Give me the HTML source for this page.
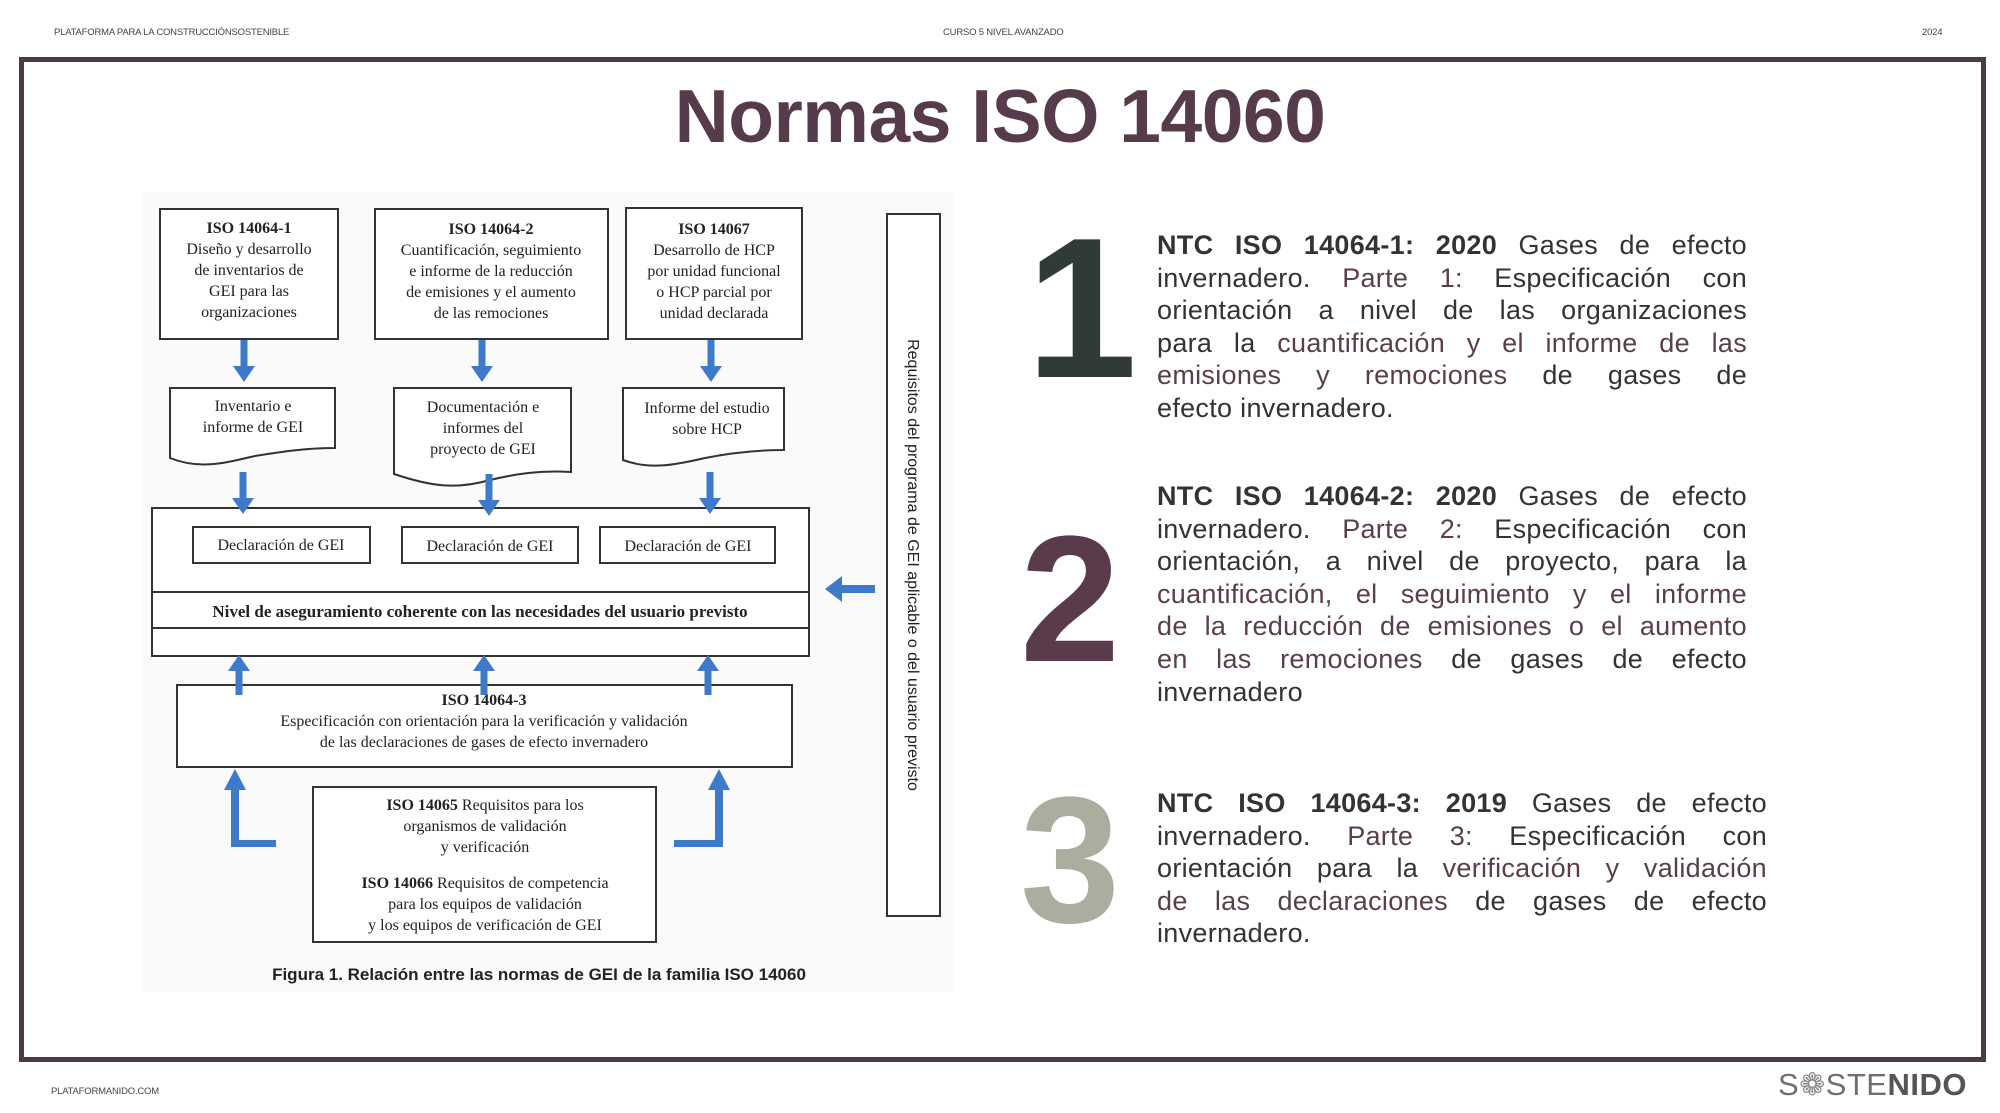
<!DOCTYPE html>
<html><head><meta charset="utf-8"><style>
html,body{margin:0;padding:0;background:#fff;}
body{width:2000px;height:1113px;position:relative;overflow:hidden;font-family:"Liberation Sans",sans-serif;}
.hd{position:absolute;top:27px;font-size:9.5px;color:#444;letter-spacing:-0.2px;}
.frame{position:absolute;left:19px;top:57px;width:1957px;height:995px;border:5px solid #4d3a45;}
.title{position:absolute;left:0;width:2000px;top:73px;text-align:center;font-size:75px;font-weight:bold;color:#563c4a;letter-spacing:-0.5px;}
.num{position:absolute;font-weight:bold;line-height:1;}
.para{position:absolute;left:1157px;width:590px;font-size:27px;line-height:32.6px;color:#333;letter-spacing:0.3px;}
.para div{text-align:justify;text-align-last:justify;}
.para div.l{text-align-last:left;}
.p{color:#5a3e4c;}
b{font-weight:bold;color:#333;}
</style></head><body>
<div class="hd" style="left:54px">PLATAFORMA PARA LA CONSTRUCCIÓNSOSTENIBLE</div>
<div class="hd" style="left:943px">CURSO 5 NIVEL AVANZADO</div>
<div class="hd" style="left:1922px">2024</div>
<div class="frame"></div>
<div class="title">Normas ISO 14060</div>

<svg style="position:absolute;left:0;top:0" width="2000" height="1113" viewBox="0 0 2000 1113">
<defs>
<g id="ad"><rect x="-3.5" y="0" width="7" height="28" fill="#3d7acb"/><polygon points="-11,26 11,26 0,42" fill="#3d7acb"/></g>
</defs>
<rect x="143" y="192" width="810" height="800" fill="#fafafa"/>
<g fill="#fff" stroke="#333" stroke-width="2">
<rect x="160" y="209" width="178" height="130"/>
<rect x="375" y="209" width="233" height="130"/>
<rect x="626" y="208" width="176" height="131"/>
<path d="M170 388 H335 V448 C305 448 280 452 255 456 C225 463 200 470 170 458 Z"/>
<path d="M394 388 H571 V472 C540 470 515 474 490 480 C455 490 430 486 394 474 Z"/>
<path d="M623 388 H784 V450 C755 450 730 453 705 458 C675 465 650 470 623 460 Z"/>
<rect x="152" y="508" width="657" height="148"/>
<line x1="152" y1="592" x2="809" y2="592"/>
<line x1="152" y1="628" x2="809" y2="628"/>
<rect x="193" y="527" width="177" height="36"/>
<rect x="402" y="527" width="176" height="36"/>
<rect x="600" y="527" width="175" height="36"/>
<rect x="177" y="685" width="615" height="82"/>
<rect x="313" y="787" width="343" height="155"/>
<rect x="887" y="214" width="53" height="702"/>
</g>
<use href="#ad" x="244" y="340"/><use href="#ad" x="482" y="340"/><use href="#ad" x="711" y="340"/>
<use href="#ad" x="243" y="472"/><use href="#ad" x="489" y="474"/><use href="#ad" x="710" y="472"/>
<g fill="#3d7acb">
<g transform="translate(239,695) scale(1,-1)"><rect x="-3.5" y="0" width="7" height="26"/><polygon points="-11,24 11,24 0,40"/></g>
<g transform="translate(484,695) scale(1,-1)"><rect x="-3.5" y="0" width="7" height="26"/><polygon points="-11,24 11,24 0,40"/></g>
<g transform="translate(708,695) scale(1,-1)"><rect x="-3.5" y="0" width="7" height="26"/><polygon points="-11,24 11,24 0,40"/></g>
<rect x="231" y="788" width="8" height="59"/><rect x="231" y="840" width="45" height="7"/><polygon points="224,790 246,790 235,769"/>
<rect x="715" y="788" width="8" height="59"/><rect x="674" y="840" width="49" height="7"/><polygon points="708,790 730,790 719,769"/>
<rect x="840" y="585" width="35" height="8"/><polygon points="842,576 842,602 825,589"/>
</g>
<g font-family="Liberation Serif, serif" font-size="16" fill="#222" text-anchor="middle">
<text x="249" y="233" font-weight="bold">ISO 14064-1</text>
<text x="249" y="254">Diseño y desarrollo</text><text x="249" y="275">de inventarios de</text><text x="249" y="296">GEI para las</text><text x="249" y="317">organizaciones</text>
<text x="491" y="234" font-weight="bold">ISO 14064-2</text>
<text x="491" y="255">Cuantificación, seguimiento</text><text x="491" y="276">e informe de la reducción</text><text x="491" y="297">de emisiones y el aumento</text><text x="491" y="318">de las remociones</text>
<text x="714" y="234" font-weight="bold">ISO 14067</text>
<text x="714" y="255">Desarrollo de HCP</text><text x="714" y="276">por unidad funcional</text><text x="714" y="297">o HCP parcial por</text><text x="714" y="318">unidad declarada</text>
<text x="253" y="411">Inventario e</text><text x="253" y="432">informe de GEI</text>
<text x="483" y="412">Documentación e</text><text x="483" y="433">informes del</text><text x="483" y="454">proyecto de GEI</text>
<text x="707" y="413">Informe del estudio</text><text x="707" y="434">sobre HCP</text>
<text x="281" y="550">Declaración de GEI</text><text x="490" y="551">Declaración de GEI</text><text x="688" y="551">Declaración de GEI</text>
<text x="480" y="617" font-weight="bold" font-size="17">Nivel de aseguramiento coherente con las necesidades del usuario previsto</text>
<text x="484" y="705" font-weight="bold">ISO 14064-3</text>
<text x="484" y="726">Especificación con orientación para la verificación y validación</text>
<text x="484" y="747">de las declaraciones de gases de efecto invernadero</text>
<text x="485" y="810"><tspan font-weight="bold">ISO 14065</tspan> Requisitos para los</text>
<text x="485" y="831">organismos de validación</text><text x="485" y="852">y verificación</text>
<text x="485" y="888"><tspan font-weight="bold">ISO 14066</tspan> Requisitos de competencia</text>
<text x="485" y="909">para los equipos de validación</text><text x="485" y="930">y los equipos de verificación de GEI</text>
</g>
<text x="539" y="980" text-anchor="middle" font-family="Liberation Sans, sans-serif" font-weight="bold" font-size="17" fill="#222">Figura 1. Relación entre las normas de GEI de la familia ISO 14060</text>
<text transform="translate(908,565) rotate(90)" text-anchor="middle" font-family="Liberation Sans, sans-serif" font-size="16" fill="#222">Requisitos del programa de GEI aplicable o del usuario previsto</text>
</svg>

<div class="num" style="left:1026px;top:209px;font-size:200px;color:#2f3b34">1</div>
<div class="num" style="left:1020px;top:510px;font-size:180px;color:#5a3b4b">2</div>
<div class="num" style="left:1020px;top:771px;font-size:180px;color:#a9ae9e">3</div>

<div class="para" style="top:229px">
<div><b>NTC ISO 14064-1: 2020</b> Gases de efecto</div>
<div>invernadero. <span class="p">Parte 1:</span> Especificación con</div>
<div>orientación a nivel de las organizaciones</div>
<div>para la <span class="p">cuantificación y el informe de las</span></div>
<div><span class="p">emisiones y remociones</span> de gases de</div>
<div class="l">efecto invernadero.</div>
</div>
<div class="para" style="top:480px">
<div><b>NTC ISO 14064-2: 2020</b> Gases de efecto</div>
<div>invernadero. <span class="p">Parte 2:</span> Especificación con</div>
<div>orientación, a nivel de proyecto, para la</div>
<div><span class="p">cuantificación, el seguimiento y el informe</span></div>
<div><span class="p">de la reducción de emisiones o el aumento</span></div>
<div><span class="p">en las remociones</span> de gases de efecto</div>
<div class="l">invernadero</div>
</div>
<div class="para" style="top:787px;width:610px">
<div><b>NTC ISO 14064-3: 2019</b> Gases de efecto</div>
<div>invernadero. <span class="p">Parte 3:</span> Especificación con</div>
<div>orientación para la <span class="p">verificación y validación</span></div>
<div><span class="p">de las declaraciones</span> de gases de efecto</div>
<div class="l">invernadero.</div>
</div>

<div class="hd" style="left:51px;top:1086px">PLATAFORMANIDO.COM</div>
<div style="position:absolute;left:1778px;top:1066px;font-size:31px;color:#6f6f6f;letter-spacing:0.5px;line-height:38px">S<span style="color:#888">&#10049;</span>STE<b style="color:#555">NIDO</b></div>
</body></html>
